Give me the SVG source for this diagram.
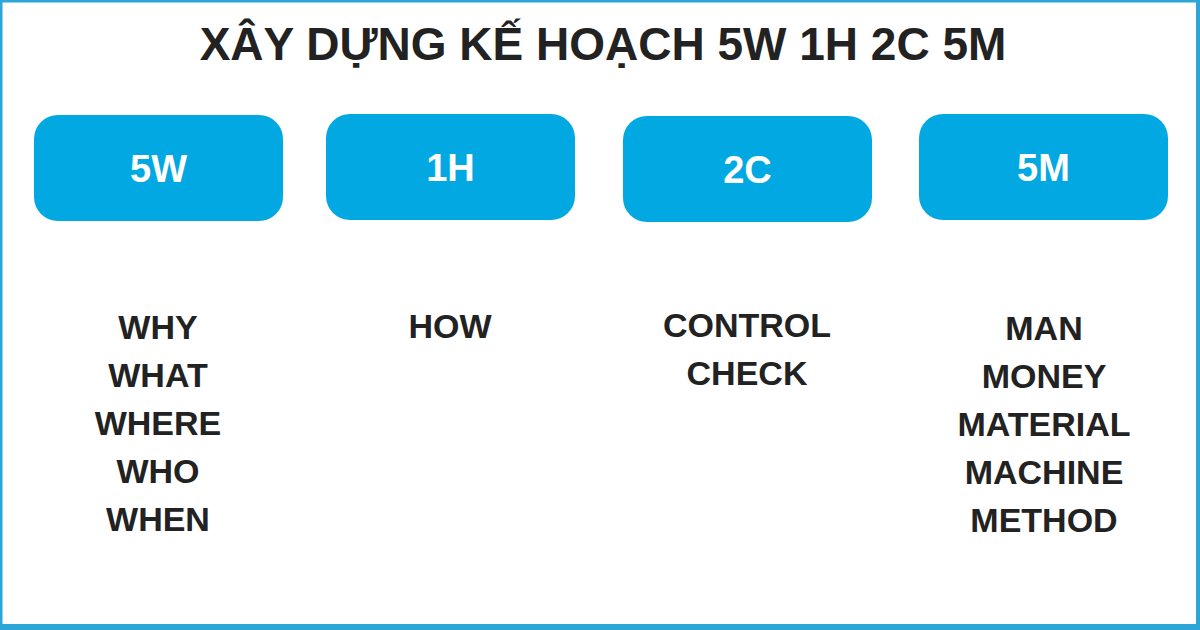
<svg xmlns="http://www.w3.org/2000/svg" width="1200" height="630" viewBox="0 0 1200 630">
<style>
.box{fill:#02a8e2;}
.bt{font-family:"Liberation Sans",Arial,sans-serif;font-weight:bold;font-size:38px;fill:#ffffff;text-anchor:middle;}
.lt{font-family:"Liberation Sans",Arial,sans-serif;font-weight:bold;font-size:34px;fill:#222222;text-anchor:middle;}
.title{font-family:"Liberation Sans",Arial,sans-serif;font-weight:bold;font-size:46px;fill:#222222;text-anchor:middle;}
</style>
<rect x="0" y="0" width="1200" height="630" fill="#ffffff"/>
<path d="M1,1 H1198 V626.5 H1 Z" fill="none" stroke="#2ba6d6" stroke-width="3"/>
<rect x="1196" y="0" width="4" height="630" fill="#2ba6d6"/>
<rect x="0" y="624" width="1200" height="6" fill="#2ba6d6"/>
<text class="title" x="603" y="60">XÂY DỰNG KẾ HOẠCH 5W 1H 2C 5M</text>
<g id="node-5w">
<rect class="box" x="34" y="115" width="249" height="106" rx="24"/>
<text class="bt" x="158.5" y="182">5W</text>
</g>
<g id="node-1h">
<rect class="box" x="326" y="114" width="249" height="106" rx="24"/>
<text class="bt" x="450.5" y="181">1H</text>
</g>
<g id="node-2c">
<rect class="box" x="623" y="116" width="249" height="106" rx="24"/>
<text class="bt" x="747.5" y="183">2C</text>
</g>
<g id="node-5m">
<rect class="box" x="919" y="114" width="249" height="106" rx="24"/>
<text class="bt" x="1043.5" y="181">5M</text>
</g>
<g id="list-5w">
<text class="lt" x="158" y="339">WHY</text>
<text class="lt" x="158" y="387">WHAT</text>
<text class="lt" x="158" y="435">WHERE</text>
<text class="lt" x="158" y="483">WHO</text>
<text class="lt" x="158" y="531">WHEN</text>
</g>
<g id="list-1h">
<text class="lt" x="450" y="338">HOW</text>
</g>
<g id="list-2c">
<text class="lt" x="747" y="337">CONTROL</text>
<text class="lt" x="747" y="385">CHECK</text>
</g>
<g id="list-5m">
<text class="lt" x="1044" y="340">MAN</text>
<text class="lt" x="1044" y="388">MONEY</text>
<text class="lt" x="1044" y="436">MATERIAL</text>
<text class="lt" x="1044" y="484">MACHINE</text>
<text class="lt" x="1044" y="532">METHOD</text>
</g>
<g id="connectors"></g>
</svg>
